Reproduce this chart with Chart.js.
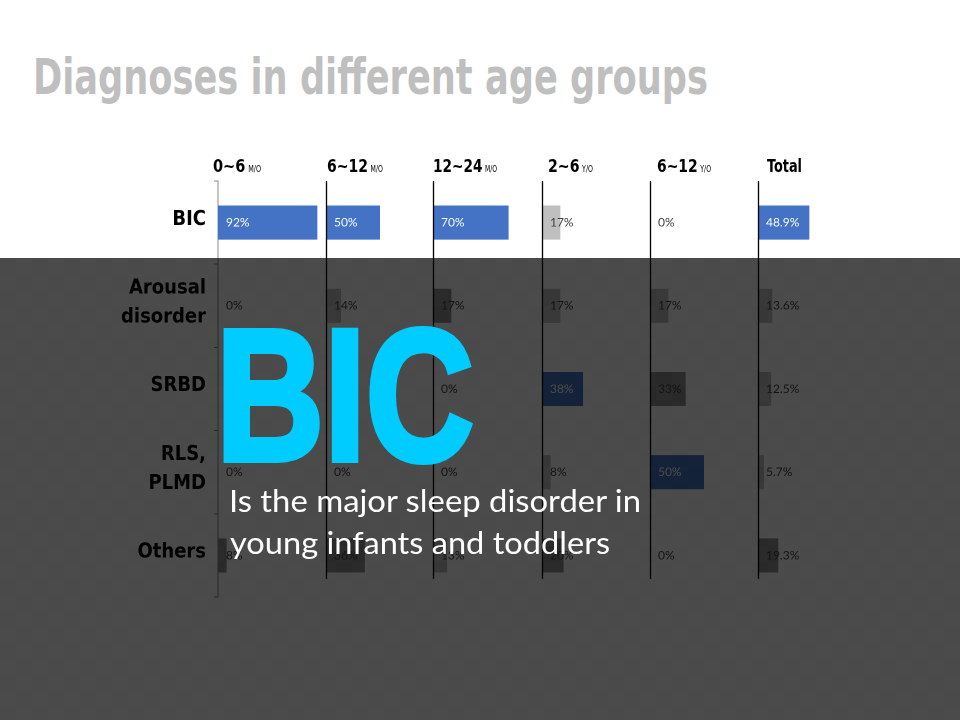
<!DOCTYPE html>
<html><head><meta charset="utf-8">
<script src="https://cdn.jsdelivr.net/npm/chart.js@4.4.1/dist/chart.umd.min.js"></script>
<style>
html,body{margin:0;padding:0;width:960px;height:720px;overflow:hidden;background:#fff;}
#stage{position:relative;width:960px;height:720px;overflow:hidden;background:#fff;}
.abs{position:absolute;white-space:nowrap;transform-origin:0 0;}
.narrow{font-family:'Liberation Sans Narrow','DejaVu Sans Condensed','Roboto Condensed',sans-serif;font-weight:bold;}
#title{color:#bfbfbf;font-size:49px;line-height:1.2;}
.hdr{color:#000;font-size:18px;line-height:1.2;z-index:2;}
.hdr small{font-size:8px;font-weight:normal;margin-left:3px;}
.chartbox{position:absolute;z-index:1;}
#overlay{position:absolute;left:0;top:258px;width:960px;height:462px;background-color:rgba(0,0,0,0.71);
  background-image:repeating-conic-gradient(rgba(255,255,255,0.008) 0 25%, rgba(0,0,0,0) 0 50%);background-size:32px 32px;z-index:5;}
#bic{color:#00ccff;font-family:'Liberation Sans',Arial,sans-serif;font-weight:bold;font-size:187px;line-height:1.2;-webkit-text-stroke:6px #00ccff;z-index:6;}
.sub{color:#fff;font-family:Lato,'Noto Sans',sans-serif;font-size:31px;line-height:1.2;z-index:6;}
</style></head>
<body><div id="stage">
<div id="title" class="abs narrow">Diagnoses in different age groups</div>
<div id="overlay"></div>
<div id="bic" class="abs">BIC</div>
<div id="sub1" class="abs sub">Is the major sleep disorder in</div>
<div id="sub2" class="abs sub">young infants and toddlers</div>
</div>
<script>
// ---- data ----
const rowLabels = [["BIC"], ["Arousal", "disorder"], ["SRBD"], ["RLS,", "PLMD"], ["Others"]];
const groupNames = ["0~6", "6~12", "12~24", "2~6", "6~12", "Total"];
const groupUnits = ["M/O", "M/O", "M/O", "Y/O", "Y/O", ""];
const age0to6m   = [92, 0, 0, 0, 8];
const age6to12m  = [50, 14, 0, 0, 36];
const age12to24m = [70, 17, 0, 0, 13];
const age2to6y   = [17, 17, 38, 8, 20];
const age6to12y  = [0, 17, 33, 50, 0];
const totalAll   = [48.9, 13.6, 12.5, 5.7, 19.3];
const labelDecimals = [0, 0, 0, 0, 0, 1];

const seriesList = [age0to6m, age6to12m, age12to24m, age2to6y, age6to12y, totalAll];

// ---- layout / style ----
const stage = document.getElementById('stage');
const baseX = [218, 326, 433, 542, 650, 758];
const plotW = [108, 108, 108, 108, 108, 105];
const headerX = [213, 327, 433, 548, 657, 767];
const headerW = [48, 56, 64, 45, 54, 35];
const plotTop = 181, plotH = 416, pad = 30;
const COL_TOP = '#4472C4', COL_SECOND = '#8f8f8f', COL_OTHER = '#bfbfbf';
const narrowFont = "'Liberation Sans Narrow','DejaVu Sans Condensed','Roboto Condensed',sans-serif";
const labelFont = "Lato,'Noto Sans',sans-serif";

function rankColors(vals) {
  const sorted = vals.map((v, i) => [v, i]).sort((a, b) => b[0] - a[0]);
  const cols = vals.map(() => COL_OTHER);
  cols[sorted[0][1]] = COL_TOP;
  cols[sorted[1][1]] = COL_SECOND;
  return cols;
}

const valueLabelPlugin = {
  id: 'valueLabels',
  afterDatasetsDraw(chart, args, opts) {
    const ctx = chart.ctx;
    const meta = chart.getDatasetMeta(0);
    const xs = chart.scales.x;
    const x0 = xs.getPixelForValue(0);
    const data = chart.data.datasets[0].data;
    const bg = chart.data.datasets[0].backgroundColor;
    ctx.save();
    ctx.font = "12px " + labelFont;
    ctx.textBaseline = 'middle';
    ctx.textAlign = 'left';
    meta.data.forEach((bar, i) => {
      ctx.fillStyle = bg[i] === COL_TOP ? '#ffffff' : '#404040';
      ctx.fillText(data[i].toFixed(opts.decimals) + '%', x0 + 8, bar.y);
    });
    ctx.restore();
  }
};
const baseLinePlugin = {
  id: 'baseLine',
  afterDatasetsDraw(chart, args, opts) {
    if (!opts.show) return;
    const ctx = chart.ctx;
    const x0 = Math.round(chart.scales.x.getPixelForValue(0)) + 0.5;
    ctx.save();
    ctx.strokeStyle = '#000';
    ctx.lineWidth = 1.3;
    ctx.beginPath();
    ctx.moveTo(x0, chart.chartArea.top);
    ctx.lineTo(x0, chart.chartArea.bottom - 18);
    ctx.stroke();
    ctx.restore();
  }
};

seriesList.forEach((vals, k) => {
  const first = k === 0;
  const leftPad = first ? 0 : 4;
  const axisW = first ? baseX[0] : 0;
  const cw = axisW + leftPad + plotW[k] + 50;
  const ch = plotH + 2 * pad;
  const box = document.createElement('div');
  box.className = 'chartbox';
  box.style.left = (first ? 0 : baseX[k] - leftPad) + 'px';
  box.style.top = (plotTop - pad) + 'px';
  box.style.width = cw + 'px';
  box.style.height = ch + 'px';
  const cv = document.createElement('canvas');
  cv.width = cw; cv.height = ch;
  cv.style.width = cw + 'px'; cv.style.height = ch + 'px';
  box.appendChild(cv);
  stage.appendChild(box);

  new Chart(cv, {
    type: 'bar',
    data: {
      labels: rowLabels,
      datasets: [{
        data: vals,
        backgroundColor: rankColors(vals),
        barPercentage: 0.41,
        categoryPercentage: 1.0,
        borderWidth: 0
      }]
    },
    options: {
      indexAxis: 'y',
      responsive: false,
      maintainAspectRatio: false,
      animation: false,
      events: [],
      devicePixelRatio: 2,
      layout: { padding: { left: leftPad, right: 50, top: pad, bottom: pad } },
      plugins: {
        legend: { display: false },
        tooltip: { enabled: false },
        valueLabels: { decimals: labelDecimals[k] },
        baseLine: { show: !first }
      },
      scales: {
        x: { display: false, min: 0, max: 100 },
        y: {
          display: first,
          afterFit: s => { s.width = axisW; },
          border: { display: true, color: '#8a8a8a', width: 1 },
          grid: { drawOnChartArea: false, drawTicks: true, tickLength: 4, color: '#8a8a8a', offset: true },
          ticks: {
            color: '#000', padding: 8, labelOffset: -3,
            font: { family: narrowFont, size: 20, weight: 'bold', lineHeight: 1.45 }
          }
        }
      }
    },
    plugins: [valueLabelPlugin, baseLinePlugin]
  });

  const h = document.createElement('div');
  h.className = 'abs hdr narrow';
  h.dataset.k = k;
  h.innerHTML = groupNames[k] + (groupUnits[k] ? '<small>' + groupUnits[k] + '</small>' : '');
  stage.appendChild(h);
});

function placeBaseline(el, x, baseY, targetW) {
  el.style.transform = 'none';
  el.style.left = x + 'px';
  el.style.top = '0px';
  let strut = el.querySelector('.strut');
  if (!strut) {
    strut = document.createElement('span');
    strut.className = 'strut';
    strut.style.cssText = 'display:inline-block;width:0;height:0;vertical-align:baseline;';
    el.appendChild(strut);
  }
  const b = strut.offsetTop;
  el.style.top = (baseY - b) + 'px';
  if (targetW) {
    const w = el.getBoundingClientRect().width;
    el.style.transform = 'scaleX(' + (targetW / w) + ')';
  }
}
function layoutText() {
  placeBaseline(document.getElementById('title'), 33, 94, 675);
  placeBaseline(document.getElementById('bic'), 216, 460, 258);
  placeBaseline(document.getElementById('sub1'), 229, 512, 412);
  placeBaseline(document.getElementById('sub2'), 230, 554, 380);
  document.querySelectorAll('.hdr').forEach(h => {
    const k = +h.dataset.k;
    placeBaseline(h, headerX[k], 172, headerW[k]);
  });
}
layoutText();
if (document.fonts && document.fonts.ready) document.fonts.ready.then(layoutText);
</script>
</body></html>
